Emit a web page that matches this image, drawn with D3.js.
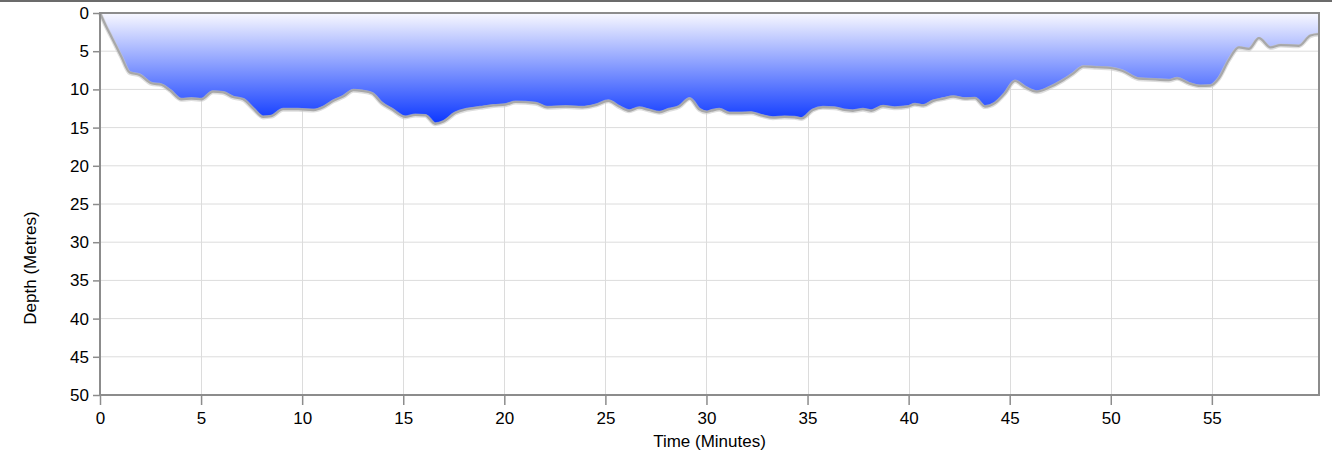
<!DOCTYPE html>
<html>
<head>
<meta charset="utf-8">
<script src="https://cdn.jsdelivr.net/npm/d3@7"></script>
<style>
html,body{margin:0;padding:0;background:#fff;}
svg{display:block;font-family:"Liberation Sans",Arial,Helvetica,sans-serif;}
</style>
</head>
<body>
<svg id="chart" width="1332" height="458"></svg>
<script>
// Time in minutes
const times = [0,0.31,0.56,1.05,1.47,1.96,2.54,3.04,3.45,4.03,4.52,5.02,5.59,6.09,6.58,7.08,7.57,8.07,8.48,9.06,9.8,
  10.56,11.06,11.55,12.05,12.54,12.95,13.45,13.94,14.44,15.1,15.6,16.09,16.58,17.0,17.57,18.15,18.81,19.47,20.05,
  20.56,21.55,22.13,23.04,23.86,24.52,25.15,25.68,26.17,26.67,27.16,27.66,28.15,28.65,29.17,29.64,30.0,
  30.23,30.64,31.14,31.63,32.21,32.71,33.29,33.86,34.36,34.72,35.26,35.76,36.34,36.83,37.24,37.74,38.15,38.73,39.31,39.96,
  40.31,40.73,41.22,41.72,42.21,42.79,43.28,43.78,44.27,44.77,45.26,45.76,46.34,47.0,47.57,48.15,48.65,49.3,50.0,
  50.56,51.39,52.21,52.87,53.28,53.86,54.44,54.93,55.35,55.84,56.34,56.83,57.33,57.9,58.4,59.3,59.88,60.3];
// Depth in metres
const depths = [0,1.8,3.1,5.7,7.8,8.1,9.2,9.4,10.1,11.3,11.2,11.3,10.3,10.4,11.0,11.3,12.5,13.6,13.5,12.6,12.6,
  12.7,12.3,11.5,10.9,10.1,10.2,10.5,11.8,12.6,13.6,13.35,13.4,14.5,14.2,13.1,12.6,12.35,12.1,12.0,
  11.65,11.8,12.35,12.25,12.35,12.05,11.5,12.25,12.8,12.4,12.7,13.0,12.6,12.25,11.2,12.6,12.95,
  12.8,12.6,13.1,13.1,13.05,13.4,13.7,13.6,13.65,13.8,12.7,12.35,12.4,12.7,12.8,12.6,12.8,12.2,12.4,12.25,
  11.95,12.1,11.5,11.2,10.95,11.2,11.15,12.25,11.8,10.5,8.9,9.7,10.3,9.7,8.9,7.9,7.0,7.1,7.2,
  7.55,8.6,8.7,8.8,8.55,9.2,9.55,9.5,8.55,6.15,4.5,4.7,3.3,4.5,4.2,4.3,2.95,2.75];
const xTicks = [0,5,10,15,20,25,30,35,40,45,50,55];
const yTicks = [0,5,10,15,20,25,30,35,40,45,50];
const xTitle = "Time (Minutes)";
const yTitle = "Depth (Metres)";

const data = times.map((t,i)=>({t, d: depths[i]}));
const svg = d3.select("#chart");
const m = {left:100, top:13, right:1319, bottom:395};
const FS = 17;

const x = d3.scaleLinear().domain([0,60.3]).range([m.left,m.right]);
const y = d3.scaleLinear().domain([0,50]).range([m.top,m.bottom]);

// top bar
svg.append("rect").attr("x",0).attr("y",0).attr("width",1332).attr("height",2).attr("fill","#6b6b6b");

// gradient
const defs = svg.append("defs");
const grad = defs.append("linearGradient").attr("id","fillGrad")
  .attr("gradientUnits","userSpaceOnUse")
  .attr("x1",0).attr("x2",0).attr("y1",y(0)).attr("y2",y(d3.max(depths)));
grad.append("stop").attr("offset","0%").attr("stop-color","#f8f8ff");
grad.append("stop").attr("offset","100%").attr("stop-color","#0a36ff");

// gridlines
const g = svg.append("g");
g.selectAll(".vg").data(xTicks.filter(v=>v>0)).join("line")
  .attr("x1",d=>Math.round(x(d))+0.5).attr("x2",d=>Math.round(x(d))+0.5)
  .attr("y1",m.top).attr("y2",m.bottom).attr("stroke","#dcdcdc").attr("stroke-width",1);
g.selectAll(".hg").data(yTicks.filter(v=>v>0&&v<50)).join("line")
  .attr("y1",d=>y(d)).attr("y2",d=>y(d))
  .attr("x1",m.left).attr("x2",m.right).attr("stroke","#dcdcdc").attr("stroke-width",1);

// area
const area = d3.area().x(d=>x(d.t)).y0(y(0)).y1(d=>y(d.d)).curve(d3.curveMonotoneX);
svg.append("path").datum(data).attr("d",area).attr("fill","url(#fillGrad)");
const line = d3.line().x(d=>x(d.t)).y(d=>y(d.d)).curve(d3.curveMonotoneX);
svg.append("path").datum(data).attr("d",line).attr("fill","none")
  .attr("stroke","#c8c8c8").attr("stroke-width",4).attr("transform","translate(0,0.5)").attr("opacity",0.6);
svg.append("path").datum(data).attr("d",line).attr("fill","none")
  .attr("stroke","#a8a8a8").attr("stroke-width",2.2);

// frame
svg.append("rect").attr("x",m.left).attr("y",m.top).attr("width",m.right-m.left).attr("height",m.bottom-m.top)
  .attr("fill","none").attr("stroke","#8c8c8c").attr("stroke-width",2);

// axes
const xAxis = d3.axisBottom(x).tickValues(xTicks).tickSize(10).tickPadding(7).tickFormat(d3.format("d"));
const yAxis = d3.axisLeft(y).tickValues(yTicks).tickSize(7).tickPadding(4).tickFormat(d3.format("d"));
const gx = svg.append("g").attr("transform",`translate(0,${m.bottom})`).call(xAxis);
const gy = svg.append("g").attr("transform",`translate(${m.left},0)`).call(yAxis);
[gx,gy].forEach(a=>{
  a.select(".domain").remove();
  a.selectAll(".tick line").attr("stroke","#8c8c8c").attr("stroke-width",1.5);
  a.selectAll(".tick text").attr("fill","#000").attr("font-size",FS)
   .attr("font-family","'Liberation Sans',Arial,Helvetica,sans-serif");
});

svg.append("text").attr("x",(m.left+m.right)/2).attr("y",447).attr("text-anchor","middle")
  .attr("font-size",FS).attr("fill","#000").text(xTitle);
svg.append("text").attr("transform","translate(36,268) rotate(-90)").attr("text-anchor","middle")
  .attr("font-size",FS).attr("fill","#000").text(yTitle);
</script>
</body>
</html>
